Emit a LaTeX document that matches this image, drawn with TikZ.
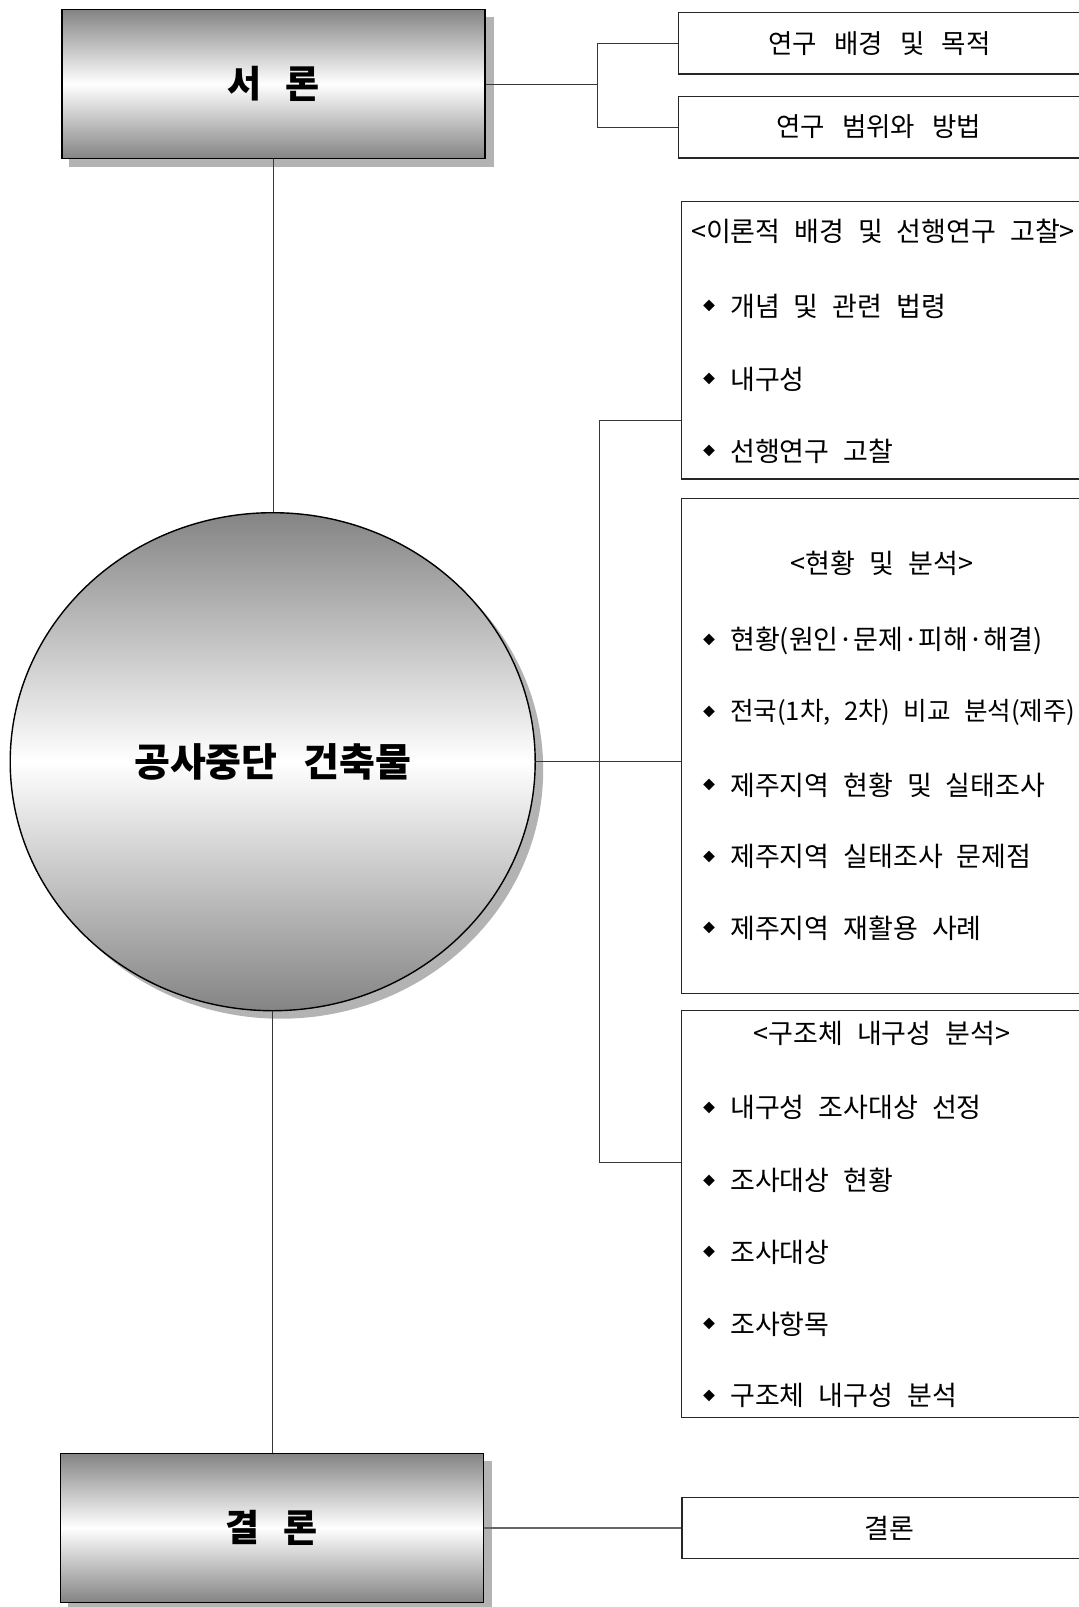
\documentclass[tikz,border=0pt]{standalone}
\usepackage{fontspec}
\setmainfont{Noto Sans CJK KR}[WordSpace=2.31]
\newfontfamily\krtop{Noto Sans CJK KR}[WordSpace=4.3]
\newfontfamily\krhead{Noto Sans CJK KR}[WordSpace=2.9]
\usetikzlibrary{shapes.geometric,backgrounds}
\definecolor{gedge}{RGB}{132,132,132}
\definecolor{shadowc}{RGB}{179,179,179}
\definecolor{linec}{RGB}{55,55,55}
\tikzset{
  mainbox/.style={draw=black, line width=1.4pt, top color=gedge, bottom color=gedge, middle color=white,
    inner sep=0pt, font=\krhead\fontsize{37}{44}\selectfont\bfseries},
  shadowfill/.style={fill=shadowc, draw=none},
  listbox/.style={draw=black!85, line width=1.3pt, fill=white, inner sep=0pt, anchor=north west},
  conn/.style={draw=linec, line width=1pt},
  item/.style={anchor=west, inner sep=0pt, font=\fontsize{27}{32}\selectfont},
  ttl/.style={inner sep=0pt, font=\fontsize{27}{32}\selectfont},
  toptxt/.style={inner sep=0pt, font=\krtop\fontsize{26.5}{31}\selectfont},
  bul/.style={inner sep=0pt, font=\fontsize{12}{14}\selectfont},
}
\begin{document}
\begin{tikzpicture}[x=1pt,y=-1pt]
\useasboundingbox (0,0) rectangle (1079,1607);
\clip (0,0) rectangle (1079,1607);

% main shaded shapes
\node[mainbox, minimum width=423pt, minimum height=149pt] (seoron) at (273.5,84) {서 론};
\node[mainbox, ellipse, minimum width=525pt, minimum height=498pt,
      font=\krhead\fontsize{39}{46}\selectfont\bfseries] (circ) at (272.7,761.7) {공사중단 건축물};
\node[mainbox, minimum width=423pt, minimum height=149pt] (gyeol) at (271.7,1527.8) {결 론};

\begin{scope}[on background layer]
  \fill[white] (0,0) rectangle (1079,1607);
  \fill[shadowfill] ([shift={(8,8)}]seoron.north west) rectangle ([shift={(8,8)}]seoron.south east);
  \fill[shadowfill] ([shift={(8,8)}]gyeol.north west) rectangle ([shift={(8,8)}]gyeol.south east);
  \fill[shadowfill] ([shift={(8,8)}]circ.center) ellipse [x radius=262.5pt, y radius=249pt];
\end{scope}

% right-hand boxes
\node[listbox, minimum width=404.5pt, minimum height=61.3pt] (b1) at (677.5,12) {};
\node[listbox, minimum width=404.5pt, minimum height=61.3pt] (b2) at (677.5,96) {};
\node[listbox, minimum width=404.3pt, minimum height=277.6pt] (b3) at (680.7,200.7) {};
\node[listbox, minimum width=404.3pt, minimum height=495pt] (b4) at (680.7,498) {};
\node[listbox, minimum width=404.3pt, minimum height=406.5pt] (b5) at (680.7,1010) {};
\node[listbox, minimum width=403.6pt, minimum height=61pt] (b6) at (681.4,1496.7) {};

\node[toptxt] (t1) at (879.5,43.5) {연구 배경 및 목적};
\node[toptxt] (t2) at (878.6,126.7) {연구 범위와 방법};
\node[ttl] (t3) at (883,231.6) {<이론적 배경 및 선행연구 고찰>};
\node[ttl] (t4) at (882,563.6) {<현황 및 분석>};
\node[ttl] (t5) at (882,1033) {<구조체 내구성 분석>};
\node[ttl] (t6) at (889,1528) {결론};

\foreach \y/\t [count=\i] in {306.4/개념 및 관련 법령, 379.1/내구성, 450.9/선행연구 고찰} {
  \node[bul] (pa\i) at (709,\y) {◆};
  \node[item] (qa\i) at (730,\y) {\t};
}
\foreach \y/\t [count=\i] in {640.4/현황(원인·문제·피해·해결), 785/제주지역 현황 및 실태조사,
    856.6/제주지역 실태조사 문제점, 928.4/제주지역 재활용 사례} {
  \node[bul] (pb\i) at (709,\y) {◆};
  \node[item] (qb\i) at (730,\y) {\t};
}
\node[bul] (pb5) at (709,712.2) {◆};
\node[item, font=\fontsize{25.6}{31}\selectfont] (qb5) at (730,712.2) {전국(1차, 2차) 비교 분석(제주)};
\foreach \y/\t [count=\i] in {1107.7/내구성 조사대상 선정, 1180.5/조사대상 현황, 1252/조사대상,
    1324/조사항목, 1395.6/구조체 내구성 분석} {
  \node[bul] (pc\i) at (709,\y) {◆};
  \node[item] (qc\i) at (730,\y) {\t};
}

% connectors
\coordinate (tj) at (597,84);
\draw[conn] (seoron.east) -- (tj);
\draw[conn] (b1.west) -- (b1.west -| tj) -- (b2.west -| tj) -- (b2.west);

\draw[conn] (seoron.south) -- (seoron.south |- circ.north);
\draw[conn] (circ.south) -- (circ.south |- gyeol.north);

\coordinate (j1) at (599.5,420);
\coordinate (j2) at (599.5,1162);
\draw[conn] (circ.east) -- (circ.east -| b4.west);
\draw[conn] (j1 -| b3.west) -- (j1) -- (j2) -- (j2 -| b5.west);

\draw[conn, line width=1.5pt, draw=black!60] (gyeol.east) -- (gyeol.east -| b6.west);
\end{tikzpicture}
\end{document}
